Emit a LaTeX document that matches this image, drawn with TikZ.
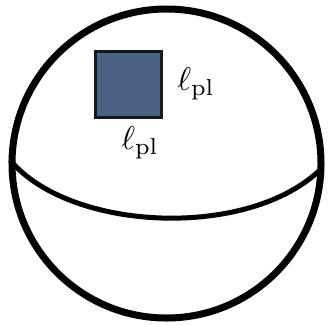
\documentclass[tikz,border=0pt]{standalone}
\usepackage{graphicx}
\definecolor{plfill}{RGB}{74,98,132}
\definecolor{plborder}{RGB}{22,24,28}
\tikzset{
  sphere/.style={draw=black, line width=7pt},
  equator/.style={draw=black, line width=5pt},
  plaquette/.style={fill=plfill, draw=plborder, line width=3pt},
  lab/.style={inner sep=0pt}
}
\newcommand{\plab}{\scalebox{3.3}{$\ell_{\mathrm{pl}}$}}
\begin{document}
\begin{tikzpicture}[x=1pt,y=-1pt]
\useasboundingbox (0,0) rectangle (328,324);
\node[circle, sphere, minimum size=309pt, inner sep=0pt] (s) at (166.5,163.5) {};
\coordinate (eqL) at (10,160);
\coordinate (eqR) at (322,168);
\draw[equator] (eqL) .. controls (70,232) and (250,240) .. (eqR);
\node[plaquette, minimum size=66pt, inner sep=0pt] (sq) at (128,84.5) {};
\node[lab] (lr) at (196,84) {\plab};
\node[lab] (lb) at (140,143) {\plab};
\end{tikzpicture}
\end{document}
